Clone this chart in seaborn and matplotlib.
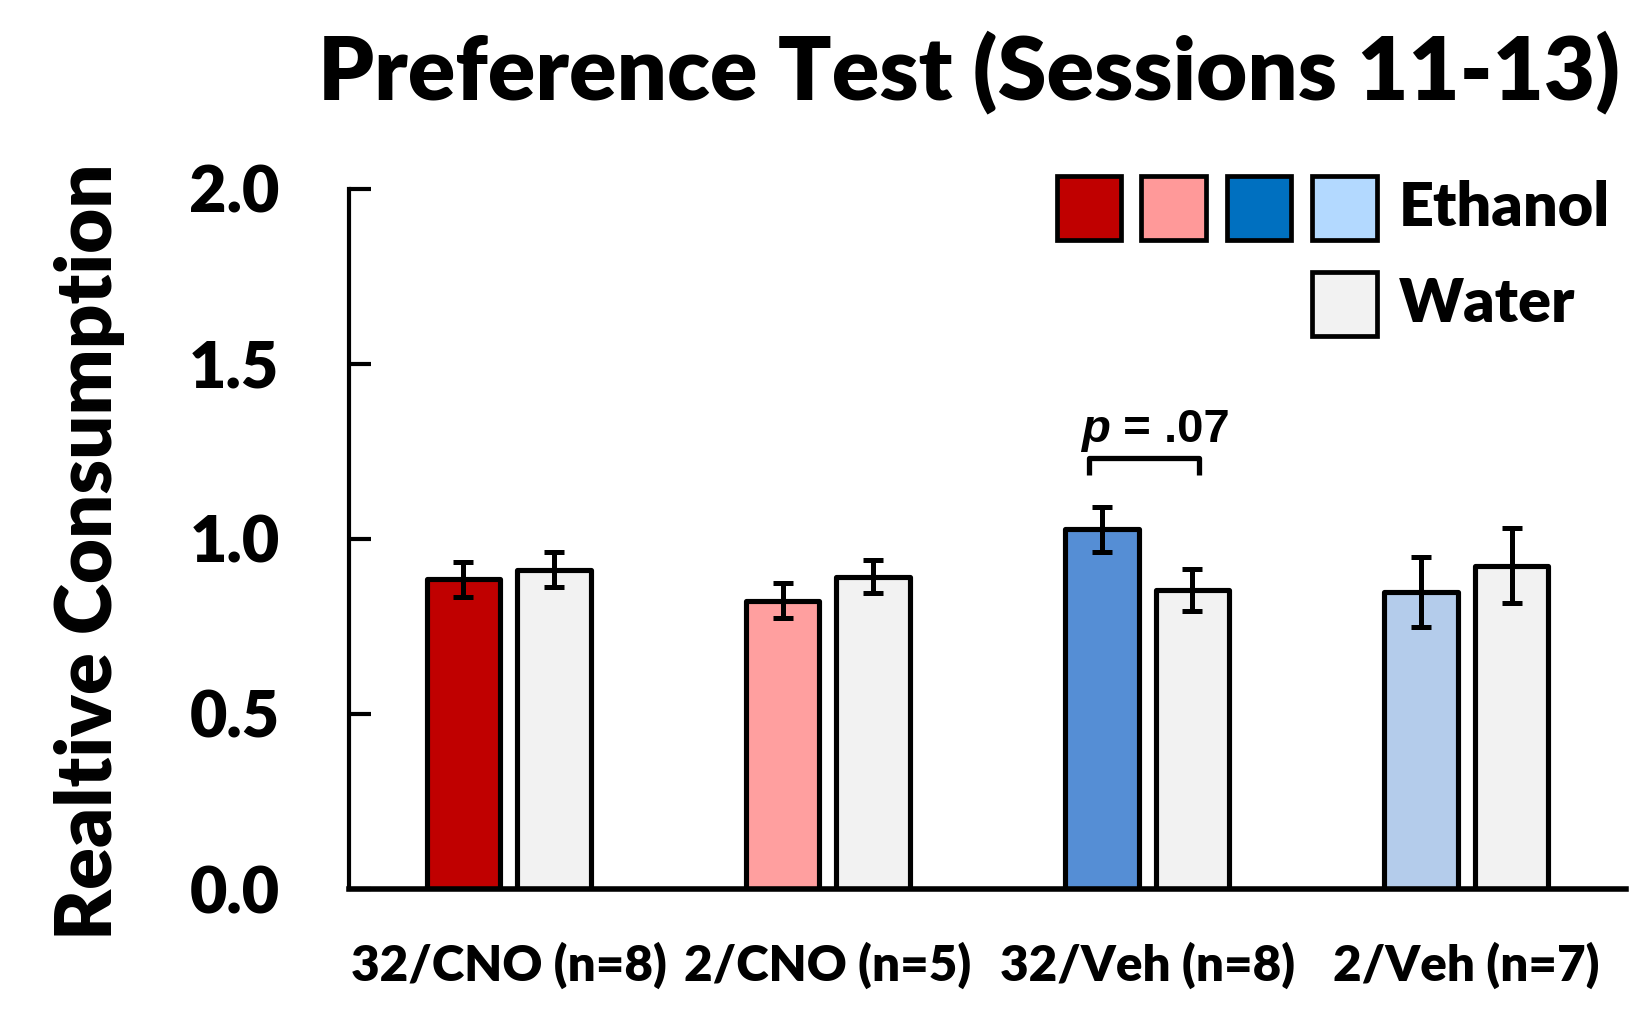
import matplotlib
matplotlib.use("Agg")
import matplotlib.pyplot as plt
from matplotlib.patches import Rectangle
import seaborn as sns
import pandas as pd
import numpy as np

# ---- data ----
groups = ["32/CNO (n=8)", "2/CNO (n=5)", "32/Veh (n=8)", "2/Veh (n=7)"]
ethanol_mean = [0.885, 0.823, 1.028, 0.848]
ethanol_sem = [0.050, 0.050, 0.064, 0.100]
water_mean = [0.912, 0.892, 0.855, 0.924]
water_sem = [0.050, 0.047, 0.060, 0.108]
fluids = ["Ethanol", "Water"]
eth_colors = ["#C00000", "#FF9F9F", "#558ED5", "#B4CCEB"]
water_color = "#F2F2F2"
legend_colors = ["#C00000", "#FF9999", "#0070C0", "#B3D9FF"]
y_ticks = [0.0, 0.5, 1.0, 1.5, 2.0]
p_text = " = .07"

sns.set_theme(style="white")
plt.rcParams["font.family"] = ["Lato", "DejaVu Sans"]
plt.rcParams["font.weight"] = "bold"
for k in ["text.color", "axes.labelcolor", "xtick.color", "ytick.color",
          "axes.edgecolor"]:
    plt.rcParams[k] = "black"

W = "heavy"

df = pd.DataFrame({
    "group": groups * 2,
    "fluid": ["Ethanol"] * 4 + ["Water"] * 4,
    "value": ethanol_mean + water_mean,
})

fig = plt.figure(figsize=(16.36, 10.10), dpi=100)
ax = fig.add_axes([0.2133, 0.1198, 0.7806, 0.6931])

sns.barplot(data=df, x="group", y="value", hue="fluid", order=groups,
            hue_order=fluids, palette=[eth_colors[0], water_color],
            width=0.568, gap=0.19, errorbar=None, edgecolor="black",
            linewidth=3.7, legend=False, ax=ax, zorder=2)

for i, bar in enumerate(ax.containers[0]):
    bar.set_facecolor(eth_colors[i])
for cont in ax.containers:
    for bar in cont:
        bar.set_joinstyle("round")

for cont, means, sems in [(ax.containers[0], ethanol_mean, ethanol_sem),
                          (ax.containers[1], water_mean, water_sem)]:
    xs = [b.get_x() + b.get_width() / 2 for b in cont]
    ax.errorbar(xs, means, yerr=sems, fmt="none", ecolor="black",
                elinewidth=3.6, capsize=7.5, capthick=3.6, zorder=3)

ax.set_xlim(-0.5, 3.5)
ax.set_ylim(0, 2.0)
ax.set_yticks(y_ticks)
ax.set_yticklabels([f"{t:.1f}" for t in y_ticks])
ax.set_xlabel("")
ax.set_ylabel("")

for s in ["top", "right"]:
    ax.spines[s].set_visible(False)
ax.spines["left"].set_linewidth(3.0)
ax.spines["bottom"].set_linewidth(4.0)
ax.spines["bottom"].set_zorder(4)

ax.tick_params(axis="y", direction="in", length=16, width=3.0, color="black",
               pad=50, labelsize=46.5, left=True)
ax.tick_params(axis="x", length=0, pad=38, labelsize=35.5)
for lab in ax.get_yticklabels() + ax.get_xticklabels():
    lab.set_fontweight(W)
    lab.set_color("black")

# significance bracket
b3 = ax.containers[0][2]
w3 = ax.containers[1][2]
x1 = b3.get_x() + b3.get_width() / 2 - 0.04
x2 = w3.get_x() + w3.get_width() / 2 + 0.02
ax.plot([x1, x1, x2, x2], [1.183, 1.231, 1.231, 1.183], color="black",
        lw=3.8, solid_joinstyle="round", solid_capstyle="butt", zorder=3)
xp = 1.883
ax.text(xp, 1.276, "p", fontsize=34, fontweight="bold", fontstyle="italic",
        family=["Liberation Sans"], ha="right", va="baseline")
ax.text(xp, 1.276, p_text, fontsize=34, fontweight="bold",
        family=["Liberation Sans"], ha="left", va="baseline")

# custom legend
sq_w, sq_h = 0.0506, 0.0909
sq_x = [0.5543, 0.6204, 0.6873, 0.7543]
for xx, c in zip(sq_x, legend_colors):
    ax.add_patch(Rectangle((xx, 0.927), sq_w, sq_h, transform=ax.transAxes,
                           facecolor=c, edgecolor="black", lw=3.4,
                           clip_on=False, zorder=5))
ax.add_patch(Rectangle((sq_x[3], 0.7899), sq_w, sq_h, transform=ax.transAxes,
                       facecolor=water_color, edgecolor="black", lw=3.4,
                       clip_on=False, zorder=5))
ax.text(0.822, 0.9724, fluids[0], transform=ax.transAxes, fontsize=44,
        fontweight=W, ha="left", va="center")
ax.text(0.822, 0.836, fluids[1], transform=ax.transAxes, fontsize=44,
        fontweight=W, ha="left", va="center")

fig.text(0.592, 0.902, "Preference Test (Sessions 11-13)", fontsize=63.5,
         fontweight=W, ha="center", va="baseline")
fig.text(0.055, 0.4535, "Realtive Consumption", fontsize=56, fontweight=W,
         rotation=90, ha="center", va="center")

fig.savefig("out.png", dpi=100)
